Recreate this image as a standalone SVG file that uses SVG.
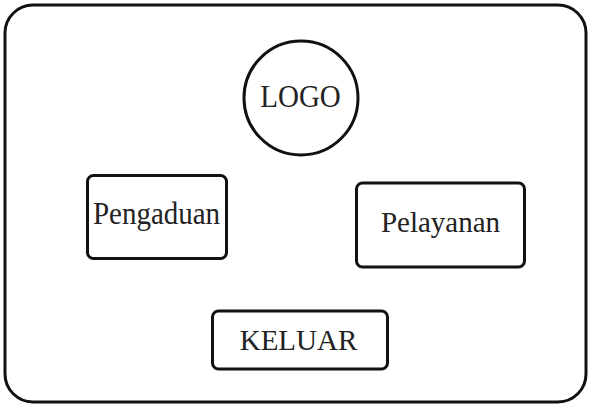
<svg xmlns="http://www.w3.org/2000/svg" width="589" height="405" viewBox="0 0 589 405">
<style>
.frame{fill:#fff;stroke:#111;stroke-width:3}
.box{fill:#fff;stroke:#111;stroke-width:3}
.lbl{font-family:"Liberation Serif","Times New Roman",serif;font-size:29px;fill:#222;text-anchor:middle}
</style>
<rect width="589" height="405" fill="#fff"/>
<g id="frame"><rect class="frame" x="5" y="5" width="581" height="397" rx="28" ry="28"/></g>
<g id="connectors"></g>
<g id="logo"><circle class="box" cx="301" cy="98" r="57"/><text class="lbl" transform="translate(300.5,107) scale(1,1.08)">LOGO</text></g>
<g id="pengaduan"><rect class="box" x="87.5" y="175.5" width="139" height="83" rx="6"/><text class="lbl" transform="translate(156.5,224.3) scale(1,1.1)">Pengaduan</text></g>
<g id="pelayanan"><rect class="box" x="356.5" y="183" width="168" height="84" rx="6"/><text class="lbl" x="440.5" y="231.7">Pelayanan</text></g>
<g id="keluar"><rect class="box" x="212.5" y="311" width="175" height="58" rx="6"/><text class="lbl" x="298.5" y="349.5">KELUAR</text></g>
</svg>
